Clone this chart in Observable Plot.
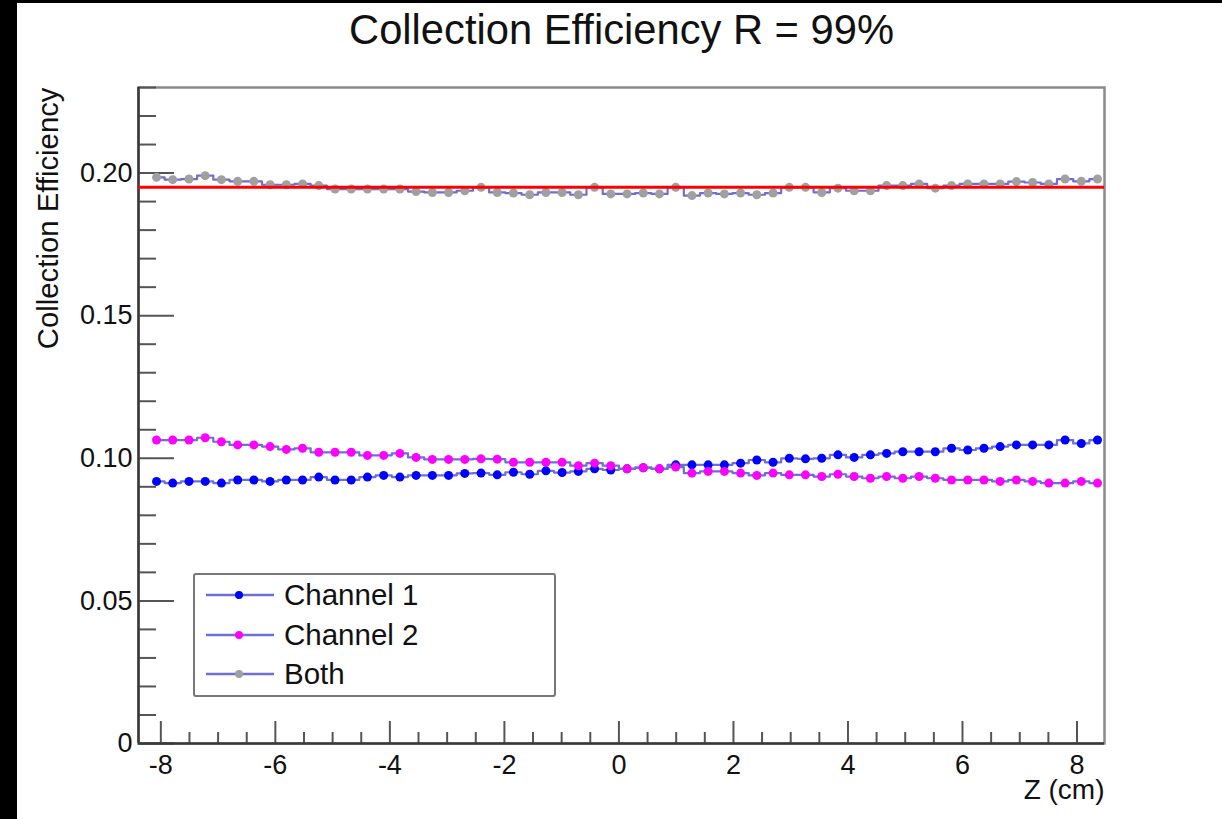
<!DOCTYPE html>
<html>
<head>
<meta charset="utf-8">
<script src="https://cdn.jsdelivr.net/npm/d3@7"></script>
<script src="https://cdn.jsdelivr.net/npm/@observablehq/plot@0.6"></script>
<style>
  html, body { margin: 0; padding: 0; background: #000; }
  #page { position: absolute; left: 17px; top: 3px; width: 1205px; height: 816px; background: #fff; overflow: hidden; }
  #chart { position: absolute; left: 0; top: 0; }
  #legend { position: absolute; left: 176px; top: 570px; width: 363px; height: 124px; box-sizing: border-box;
            border: 2px solid #777; border-radius: 3px; background: #fff;
            font-family: "Liberation Sans", Arial, sans-serif; font-size: 29.5px; color: #111; }
  .row { position: absolute; left: 10px; height: 36px; display: flex; align-items: center; }
  .row svg { margin-right: 9px; }
</style>
</head>
<body>
<div id="page">
  <div id="chart"></div>
  <div id="legend"></div>
</div>
<script>
// Bin centres (cm) of the drawn bins
const z = [-8.075,-7.792,-7.508,-7.225,-6.942,-6.658,-6.375,-6.092,-5.808,-5.525,-5.242,-4.958,-4.675,-4.392,-4.108,-3.825,-3.542,-3.258,-2.975,-2.692,-2.408,-2.125,-1.842,-1.558,-1.275,-0.992,-0.708,-0.425,-0.142,0.142,0.425,0.708,0.992,1.275,1.558,1.842,2.125,2.408,2.692,2.975,3.258,3.542,3.825,4.108,4.392,4.675,4.958,5.242,5.525,5.808,6.092,6.375,6.658,6.942,7.225,7.508,7.792,8.075,8.358];

const channel1 = [0.0919,0.0913,0.0919,0.0919,0.0913,0.0924,0.0924,0.0919,0.0924,0.0924,0.0934,0.0924,0.0924,0.0934,0.0940,0.0934,0.0940,0.0940,0.0940,0.0947,0.0948,0.0942,0.0951,0.0944,0.0956,0.0950,0.0954,0.0963,0.0959,0.0963,0.0967,0.0963,0.0977,0.0977,0.0977,0.0977,0.0983,0.0994,0.0986,0.1000,0.0998,0.1000,0.1012,0.1003,0.1012,0.1017,0.1023,0.1023,0.1023,0.1035,0.1029,0.1035,0.1041,0.1047,0.1047,0.1047,0.1064,0.1052,0.1064];

const channel2 = [0.1064,0.1064,0.1064,0.1072,0.1058,0.1047,0.1047,0.1041,0.1031,0.1035,0.1021,0.1021,0.1021,0.1010,0.1010,0.1017,0.1003,0.0996,0.0996,0.0996,0.0998,0.0997,0.0986,0.0986,0.0986,0.0986,0.0974,0.0983,0.0974,0.0963,0.0967,0.0963,0.0969,0.0948,0.0954,0.0954,0.0948,0.0940,0.0948,0.0942,0.0942,0.0936,0.0944,0.0936,0.0930,0.0936,0.0930,0.0936,0.0930,0.0924,0.0924,0.0924,0.0919,0.0924,0.0919,0.0913,0.0913,0.0919,0.0913];

const both = [0.1985,0.1977,0.1979,0.1991,0.1977,0.1971,0.1971,0.1959,0.1959,0.1962,0.1956,0.1944,0.1944,0.1944,0.1944,0.1944,0.1935,0.1932,0.1932,0.1938,0.1950,0.1932,0.1930,0.1924,0.1932,0.1932,0.1924,0.1950,0.1927,0.1927,0.1930,0.1927,0.1950,0.1921,0.1930,0.1927,0.1930,0.1924,0.1930,0.1950,0.1950,0.1932,0.1947,0.1938,0.1938,0.1956,0.1956,0.1962,0.1947,0.1956,0.1962,0.1962,0.1962,0.1970,0.1967,0.1962,0.1979,0.1971,0.1979];

const fitLevel = [0.1950];

const seriesNames = ["Channel 1", "Channel 2", "Both"];
const seriesColors = ["#0000ff", "#ff00ff", "#a0a0a0"];
const lineColor = "#6e6ed4";

const xMajor = [-8, -6, -4, -2, 0, 2, 4, 6, 8];
const xMinor = [-7.5,-7,-6.5,-5.5,-5,-4.5,-3.5,-3,-2.5,-1.5,-1,-0.5,0.5,1,1.5,2.5,3,3.5,4.5,5,5.5,6.5,7,7.5];
const yMajor = [0, 0.05, 0.10, 0.15, 0.20];
const yMinor = [0.01,0.02,0.03,0.04,0.06,0.07,0.08,0.09,0.11,0.12,0.13,0.14,0.16,0.17,0.18,0.19,0.21,0.22,0.23];
const xDomain = [-8.39, 8.48];
const yDomain = [0, 0.23];

const W = 1205, H = 816;
const mL = 121, mR = 118, mT = 84, mB = 76;
const pw = W - mL - mR, ph = H - mT - mB;
const font = '"Liberation Sans", Arial, sans-serif';

const s1 = z.map((x, i) => ({x, y: channel1[i]}));
const s2 = z.map((x, i) => ({x, y: channel2[i]}));
const s3 = z.map((x, i) => ({x, y: both[i]}));

const tickColor = "#555";

const chart = Plot.plot({
  width: W, height: H,
  marginLeft: mL, marginRight: mR, marginTop: mT, marginBottom: mB,
  style: {fontFamily: font, background: "transparent", overflow: "visible", color: "#111"},
  x: {domain: xDomain},
  y: {domain: yDomain},
  marks: [
    Plot.frame({stroke: "#8a8a8a", strokeWidth: 2.5}),
    Plot.tickX(xMajor, {x: d => d, insetTop: ph - 22, stroke: tickColor, strokeWidth: 2}),
    Plot.tickX(xMinor, {x: d => d, insetTop: ph - 11, stroke: tickColor, strokeWidth: 2}),
    Plot.tickY(yMajor, {y: d => d, insetRight: pw - 36, stroke: tickColor, strokeWidth: 2}),
    Plot.tickY(yMinor, {y: d => d, insetRight: pw - 18, stroke: tickColor, strokeWidth: 2}),
    Plot.ruleX([xDomain[0]], {stroke: "#3a3a3a", strokeWidth: 2.5}),
    Plot.ruleY([yDomain[0]], {stroke: "#3a3a3a", strokeWidth: 2.5}),
    Plot.axisX({ticks: xMajor, tickSize: 0, tickPadding: 11, fontSize: 27, tickFormat: d => String(d), label: null}),
    Plot.axisY({ticks: yMajor, tickSize: 0, tickPadding: 6, fontSize: 27, tickFormat: d => d === 0 ? "0" : d.toFixed(2), label: null}),
    Plot.line(s1, {x: "x", y: "y", curve: "step", stroke: lineColor, strokeWidth: 2.2}),
    Plot.dot(s1, {x: "x", y: "y", r: 4.5, fill: seriesColors[0]}),
    Plot.line(s2, {x: "x", y: "y", curve: "step", stroke: lineColor, strokeWidth: 2.2}),
    Plot.dot(s2, {x: "x", y: "y", r: 4.5, fill: seriesColors[1]}),
    Plot.line(s3, {x: "x", y: "y", curve: "step", stroke: lineColor, strokeWidth: 2.2}),
    Plot.dot(s3, {x: "x", y: "y", r: 4.5, fill: seriesColors[2]}),
    Plot.ruleY(fitLevel, {stroke: "#ff0000", strokeWidth: 3}),
    Plot.text(["Collection Efficiency R = 99%"], {frameAnchor: "top", dy: -57, fontSize: 41.7, fill: "#111", lineAnchor: "middle"}),
    Plot.text(["Collection Efficiency"], {frameAnchor: "top-left", rotate: -90, textAnchor: "end", lineAnchor: "middle", dx: -90, fontSize: 29.3, fill: "#111"}),
    Plot.text(["Z (cm)"], {frameAnchor: "bottom-right", textAnchor: "end", lineAnchor: "middle", dy: 47, fontSize: 28, fill: "#111"})
  ]
});
document.getElementById("chart").appendChild(chart);

const legend = document.getElementById("legend");
const rowTops = [2, 42, 81];
seriesNames.forEach((name, i) => {
  const row = document.createElement("div");
  row.className = "row";
  row.style.top = rowTops[i] + "px";
  row.innerHTML = `<svg width="70" height="20"><line x1="1" y1="10" x2="69" y2="10" stroke="${lineColor}" stroke-width="2.5"/><circle cx="34" cy="10" r="4" fill="${seriesColors[i]}"/></svg><span>${name}</span>`;
  legend.appendChild(row);
});
</script>
</body>
</html>
